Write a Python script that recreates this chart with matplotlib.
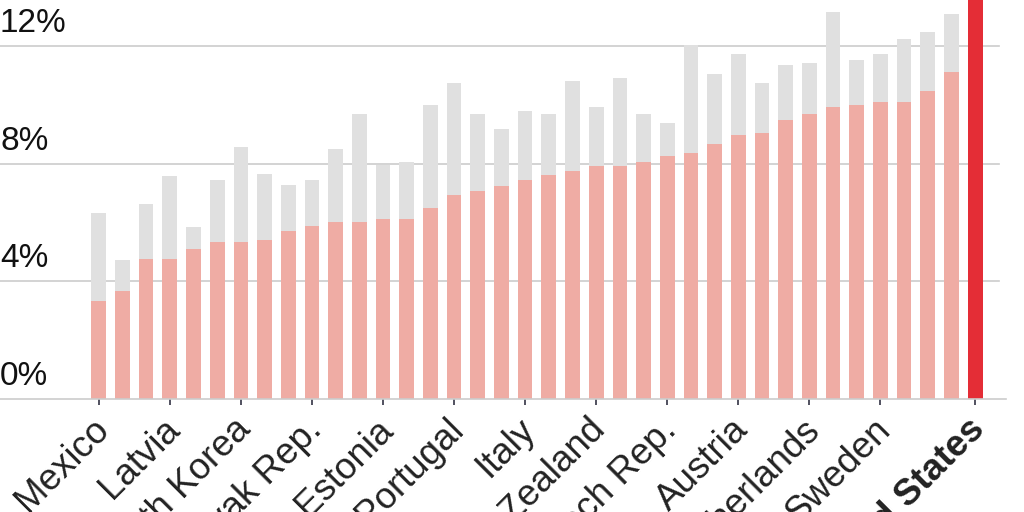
import numpy as np
import matplotlib.pyplot as plt
import matplotlib.transforms as mtransforms

# labelled countries only (every third bar + United States)
labels = ['Mexico', '', '', 'Latvia', '', '', 'South Korea', '', '', 'Slovak Rep.',
          '', '', 'Estonia', '', '', 'Portugal', '', '', 'Italy', '', '',
          'New Zealand', '', '', 'Czech Rep.', '', '', 'Austria', '', '',
          'Netherlands', '', '', 'Sweden', '', '', '', 'United States']
public = [3.33, 3.66, 4.77, 4.77, 5.09, 5.34, 5.34, 5.39, 5.71, 5.88,
          6.02, 6.02, 6.13, 6.13, 6.49, 6.93, 7.07, 7.24, 7.44, 7.61,
          7.75, 7.93, 7.93, 8.06, 8.25, 8.36, 8.67, 8.98, 9.04, 9.48,
          9.68, 9.93, 9.98, 10.11, 10.11, 10.48, 11.10, 17.1]
total = [6.33, 4.71, 6.64, 7.58, 5.84, 7.44, 8.57, 7.64, 7.26, 7.44,
         8.50, 9.69, 7.95, 8.06, 9.98, 10.74, 9.69, 9.18, 9.80, 9.69,
         10.80, 9.93, 10.91, 9.68, 9.37, 12.02, 11.05, 11.73, 10.74, 11.35,
         11.42, 13.15, 11.53, 11.73, 12.23, 12.47, 13.09, 17.1]
yticks = [0, 4, 8, 12]

plt.rcParams['font.family'] = ['Liberation Sans', 'DejaVu Sans']

fig = plt.figure(figsize=(10.24, 5.12), dpi=100)
ax = fig.add_axes([0, 113 / 512, 1006 / 1024, 399 / 512])

x = np.arange(len(labels))
pub = np.array(public[:-1])
tot = np.array(total[:-1])
ax.bar(x[:-1], pub, width=0.62, color='#efaca4', zorder=2)
ax.bar(x[:-1], tot - pub, bottom=pub, width=0.62, color='#e0e0e0', zorder=2)
ax.bar(x[-1], total[-1], width=0.62, color='#e42d36', zorder=2)

ax.set_xlim(-4.17, 38.3)
ax.set_ylim(0, 13.56)

for v in yticks:
    if v > 0:
        ax.axhline(v, color='#cccccc', lw=1.2, zorder=1, xmax=0.993)
    ax.annotate(f'{v}%', xy=(0, v), xycoords=ax.get_yaxis_transform(),
                xytext=(0, 10), textcoords='offset points',
                ha='left', va='baseline', fontsize=24, color='#111111')

ax.set_yticks([])
for s in ['top', 'right', 'left']:
    ax.spines[s].set_visible(False)
ax.spines['bottom'].set_color('#cccccc')
ax.spines['bottom'].set_linewidth(1.2)

tick_idx = [i for i, l in enumerate(labels) if l]
ax.set_xticks(tick_idx)
ax.set_xticklabels([labels[i] for i in tick_idx], rotation=45, ha='right',
                   rotation_mode='anchor', fontsize=26.5, color='#222222')
ax.tick_params(axis='x', length=4, width=1.2, color='#333344', pad=4)
shift = mtransforms.ScaledTranslation(-0.08, -0.02, fig.dpi_scale_trans)
for t in ax.get_xticklabels():
    t.set_transform(t.get_transform() + shift)
ax.get_xticklabels()[-1].set_fontweight('bold')

fig.savefig('out.png', dpi=100)
